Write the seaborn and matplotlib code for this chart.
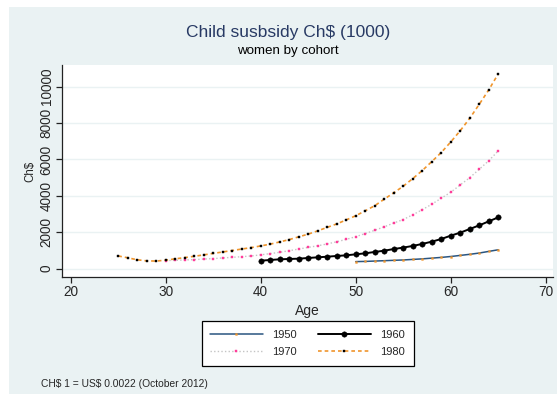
import matplotlib
matplotlib.use("Agg")
import matplotlib.pyplot as plt
from matplotlib.patches import Rectangle
import seaborn as sns
import pandas as pd

# Child subsidy (Ch$ thousands) by age, one series per birth cohort of women
ages_1950 = list(range(50, 66))
subsidy_1950 = [390, 400, 420, 440, 460, 480, 510, 540, 580, 620, 670, 730,
                790, 860, 950, 1040]

ages_1960 = list(range(40, 66))
subsidy_1960 = [440, 480, 515, 535, 550, 590, 625, 660, 700, 735, 790, 845,
                920, 990, 1080, 1160, 1250, 1360, 1485, 1630, 1815, 1980,
                2180, 2380, 2600, 2820]

ages_1970 = list(range(30, 66))
subsidy_1970 = [450, 460, 480, 500, 530, 555, 590, 625, 660, 700, 760, 830,
                900, 990, 1080, 1170, 1260, 1360, 1480, 1610, 1760, 1930,
                2110, 2300, 2510, 2700, 2960, 3240, 3540, 3870, 4200, 4600,
                5000, 5460, 5930, 6470]

ages_1980 = list(range(25, 66))
subsidy_1980 = [700, 600, 490, 430, 420, 470, 540, 610, 680, 760, 840, 920,
                1000, 1080, 1160, 1250, 1350, 1470, 1600, 1750, 1900, 2080,
                2270, 2460, 2680, 2910, 3180, 3460, 3820, 4170, 4530, 4950,
                5390, 5880, 6380, 6960, 7580, 8260, 9030, 9820, 10700]

cohorts = ["1950", "1960", "1970", "1980"]
x_ticks = [20, 30, 40, 50, 60, 70]
y_ticks = [0, 2000, 4000, 6000, 8000, 10000]

title = "Child susbsidy Ch\\$ (1000)"
subtitle = "women by cohort"
y_title = "Ch\\$"
note = "CH\\$ 1 = US\\$ 0.0022 (October 2012)"

frames = []
for name, a, v in [("1950", ages_1950, subsidy_1950),
                   ("1960", ages_1960, subsidy_1960),
                   ("1970", ages_1970, subsidy_1970),
                   ("1980", ages_1980, subsidy_1980)]:
    frames.append(pd.DataFrame({"Age": a, "subsidy": v, "cohort": name}))
df = pd.concat(frames, ignore_index=True)

sns.set_theme(style="white")
plt.rcParams["font.family"] = ["Liberation Sans", "DejaVu Sans"]

BG = "#EAF2F3"
W, H = 557, 394
fig = plt.figure(figsize=(W / 100, H / 100), dpi=100, facecolor="white")
fig.patches.append(Rectangle((9 / W, 0), 1 - 9 / W, 1 - 7 / H,
                             transform=fig.transFigure, facecolor=BG,
                             edgecolor="none", zorder=-5))

left, right, top, bottom = 62, 553, 65, 277
ax = fig.add_axes([left / W, 1 - bottom / H, (right - left) / W,
                   (bottom - top) / H])
ax.set_facecolor("white")

styles = {
    "1950": dict(color="#2a5580", lw=1.1, ls="-", marker="s", ms=1.3,
                 mfc="#f0952c", mec="#f0952c"),
    "1960": dict(color="black", lw=1.4, ls="-", marker="o", ms=3.9,
                 mfc="black", mec="black"),
    "1970": dict(color="#c4c4c4", lw=1.0, ls=(0, (1, 1.6)), marker="s", ms=1.6,
                 mfc="#ff3d9a", mec="#ff3d9a"),
    "1980": dict(color="#f0952c", lw=1.2, ls=(0, (2.2, 1.8)), marker="s", ms=1.5,
                 mfc="black", mec="black"),
}

for c in cohorts:
    st = styles[c]
    sub = df[df["cohort"] == c]
    sns.lineplot(data=sub, x="Age", y="subsidy", ax=ax, label=c,
                 color=st["color"], linewidth=st["lw"], linestyle=st["ls"],
                 marker=st["marker"], markersize=st["ms"],
                 markerfacecolor=st["mfc"], markeredgecolor=st["mec"],
                 markeredgewidth=0.3)

ax.set_xlim(19.08, 70.77)
ax.set_ylim(-456, 11192)
ax.set_xticks(x_ticks)
ax.set_yticks(y_ticks)
ax.set_xticklabels([str(t) for t in x_ticks], fontsize=9.8)
ax.set_yticklabels([str(t) for t in y_ticks], fontsize=9.8, rotation=90,
                   va="center")
ax.tick_params(axis="both", direction="out", length=4, width=0.9,
               color="#222222", pad=2, bottom=True, left=True)
ax.grid(axis="y", color=BG, linewidth=1.0)
ax.grid(axis="x", visible=False)
for s in ["top", "right"]:
    ax.spines[s].set_visible(False)
for s in ["left", "bottom"]:
    ax.spines[s].set_color("#222222")
    ax.spines[s].set_linewidth(0.9)

ax.set_xlabel("Age", fontsize=10, labelpad=3)
ax.set_ylabel("")
fig.text(30 / W, 1 - 171 / H, y_title, rotation=90, fontsize=8.3,
         ha="center", va="center")

fig.text(288 / W, 1 - 32 / H, title, fontsize=12.5, color="#283a64",
         ha="center", va="center")
fig.text(288 / W, 1 - 51 / H, subtitle, fontsize=9.6, color="black",
         ha="center", va="center")
fig.text(41 / W, 1 - 384 / H, note, fontsize=7.4, ha="left", va="center")

# legend laid out row-wise: 1950 1960 / 1970 1980
handles, labels = ax.get_legend_handles_labels()
lookup = dict(zip(labels, handles))
order = ["1950", "1970", "1960", "1980"]
leg = ax.legend([lookup[k] for k in order], order,
                loc="center", bbox_to_anchor=(307.8 / W, 1 - 343.4 / H),
                bbox_transform=fig.transFigure, ncol=2, fontsize=8,
                frameon=True, fancybox=False, edgecolor="black",
                framealpha=1, handlelength=4.7, handletextpad=0.9,
                columnspacing=1.9, borderpad=0.75, labelspacing=0.7,
                numpoints=1)
leg.get_frame().set_linewidth(0.9)

fig.savefig("out.png", dpi=100, facecolor=fig.get_facecolor())
